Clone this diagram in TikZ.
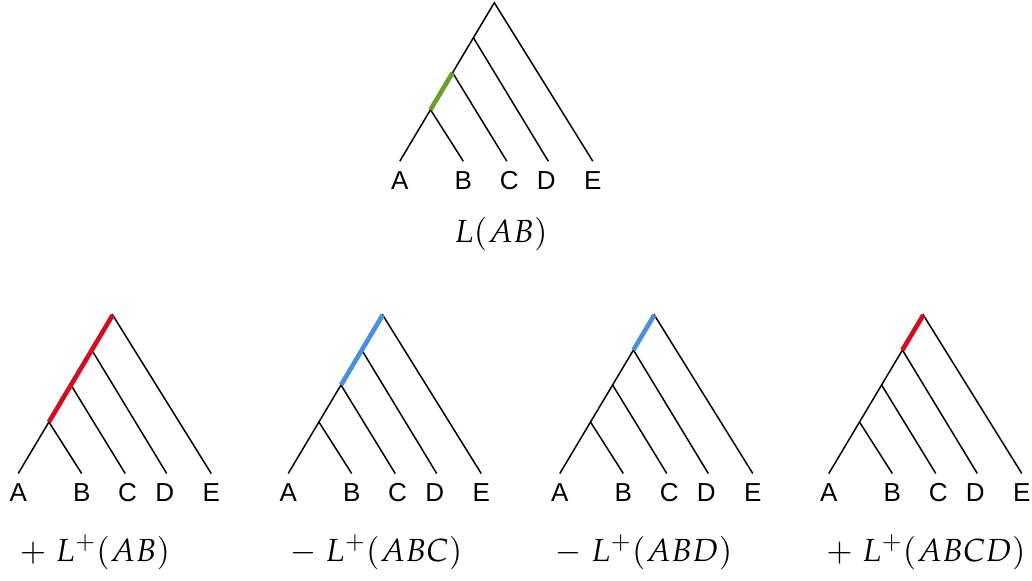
\documentclass[tikz,border=0pt]{standalone}
\usepackage{mathpazo}
\usepackage{fontspec}
\newfontfamily\leaffont{Liberation Sans}
\usetikzlibrary{positioning}
\definecolor{cladegreen}{HTML}{6AA12C}
\definecolor{cladered}{HTML}{D50B1F}
\definecolor{cladeblue}{HTML}{4A8FDF}

\newcommand{\cladetree}[3]{%
\begin{scope}[shift={(#2,#3)}]
\coordinate (#1-r) at (0,0);
\coordinate (#1-abcd) at (-20.9,35);
\coordinate (#1-abc) at (-41.7,70);
\coordinate (#1-ab) at (-63.8,107);
\coordinate (#1-A) at (-94.5,158.5);
\coordinate (#1-B) at (-31,158.5);
\coordinate (#1-C) at (12.5,158.5);
\coordinate (#1-D) at (54,158.5);
\coordinate (#1-E) at (98.5,158.5);
\draw[branch] (#1-A) -- (#1-r) -- (#1-E);
\draw[branch] (#1-ab) -- (#1-B);
\draw[branch] (#1-abc) -- (#1-C);
\draw[branch] (#1-abcd) -- (#1-D);
\node[leaf, below=4.8pt of #1-A] (#1-lA) {A};
\node[leaf, below=4.8pt of #1-B] (#1-lB) {B};
\node[leaf, below=4.8pt of #1-C, xshift=1.2pt] (#1-lC) {C};
\node[leaf, below=4.8pt of #1-D, xshift=-1pt] (#1-lD) {D};
\node[leaf, below=4.8pt of #1-E] (#1-lE) {E};
\end{scope}}

\begin{document}
\begin{tikzpicture}[x=0.5pt, y=-0.5pt,
  branch/.style={line width=0.75pt},
  hilite/.style={line width=2.3pt},
  leaf/.style={font=\leaffont\fontsize{13}{15}\selectfont, inner sep=0pt},
  formula/.style={font=\fontsize{16}{19}\selectfont, inner sep=0pt}]
\useasboundingbox (0,0) rectangle (1032,580);
\cladetree{top}{494.3}{2.7}
\draw[hilite, cladegreen] (top-ab) -- (top-abc);
\node[formula] (top-f) at (501,234) {$L(AB)$};
\foreach \pre/\rx/\fx/\hl/\col/\txt in {
  p1/112.7/95/ab/cladered/{$+\;L^{+}(AB)$},
  m1/382.7/376/abc/cladeblue/{$-\;L^{+}(ABC)$},
  m2/654.3/644/abcd/cladeblue/{$-\;L^{+}(ABD)$},
  p2/923.3/926/abcd/cladered/{$+\;L^{+}(ABCD)$}} {
  \cladetree{\pre}{\rx}{315}
  \draw[hilite, \col] (\pre-r) -- (\pre-\hl);
  \node[formula] (\pre-f) at (\fx,552) {\txt};
}
\end{tikzpicture}
\end{document}
